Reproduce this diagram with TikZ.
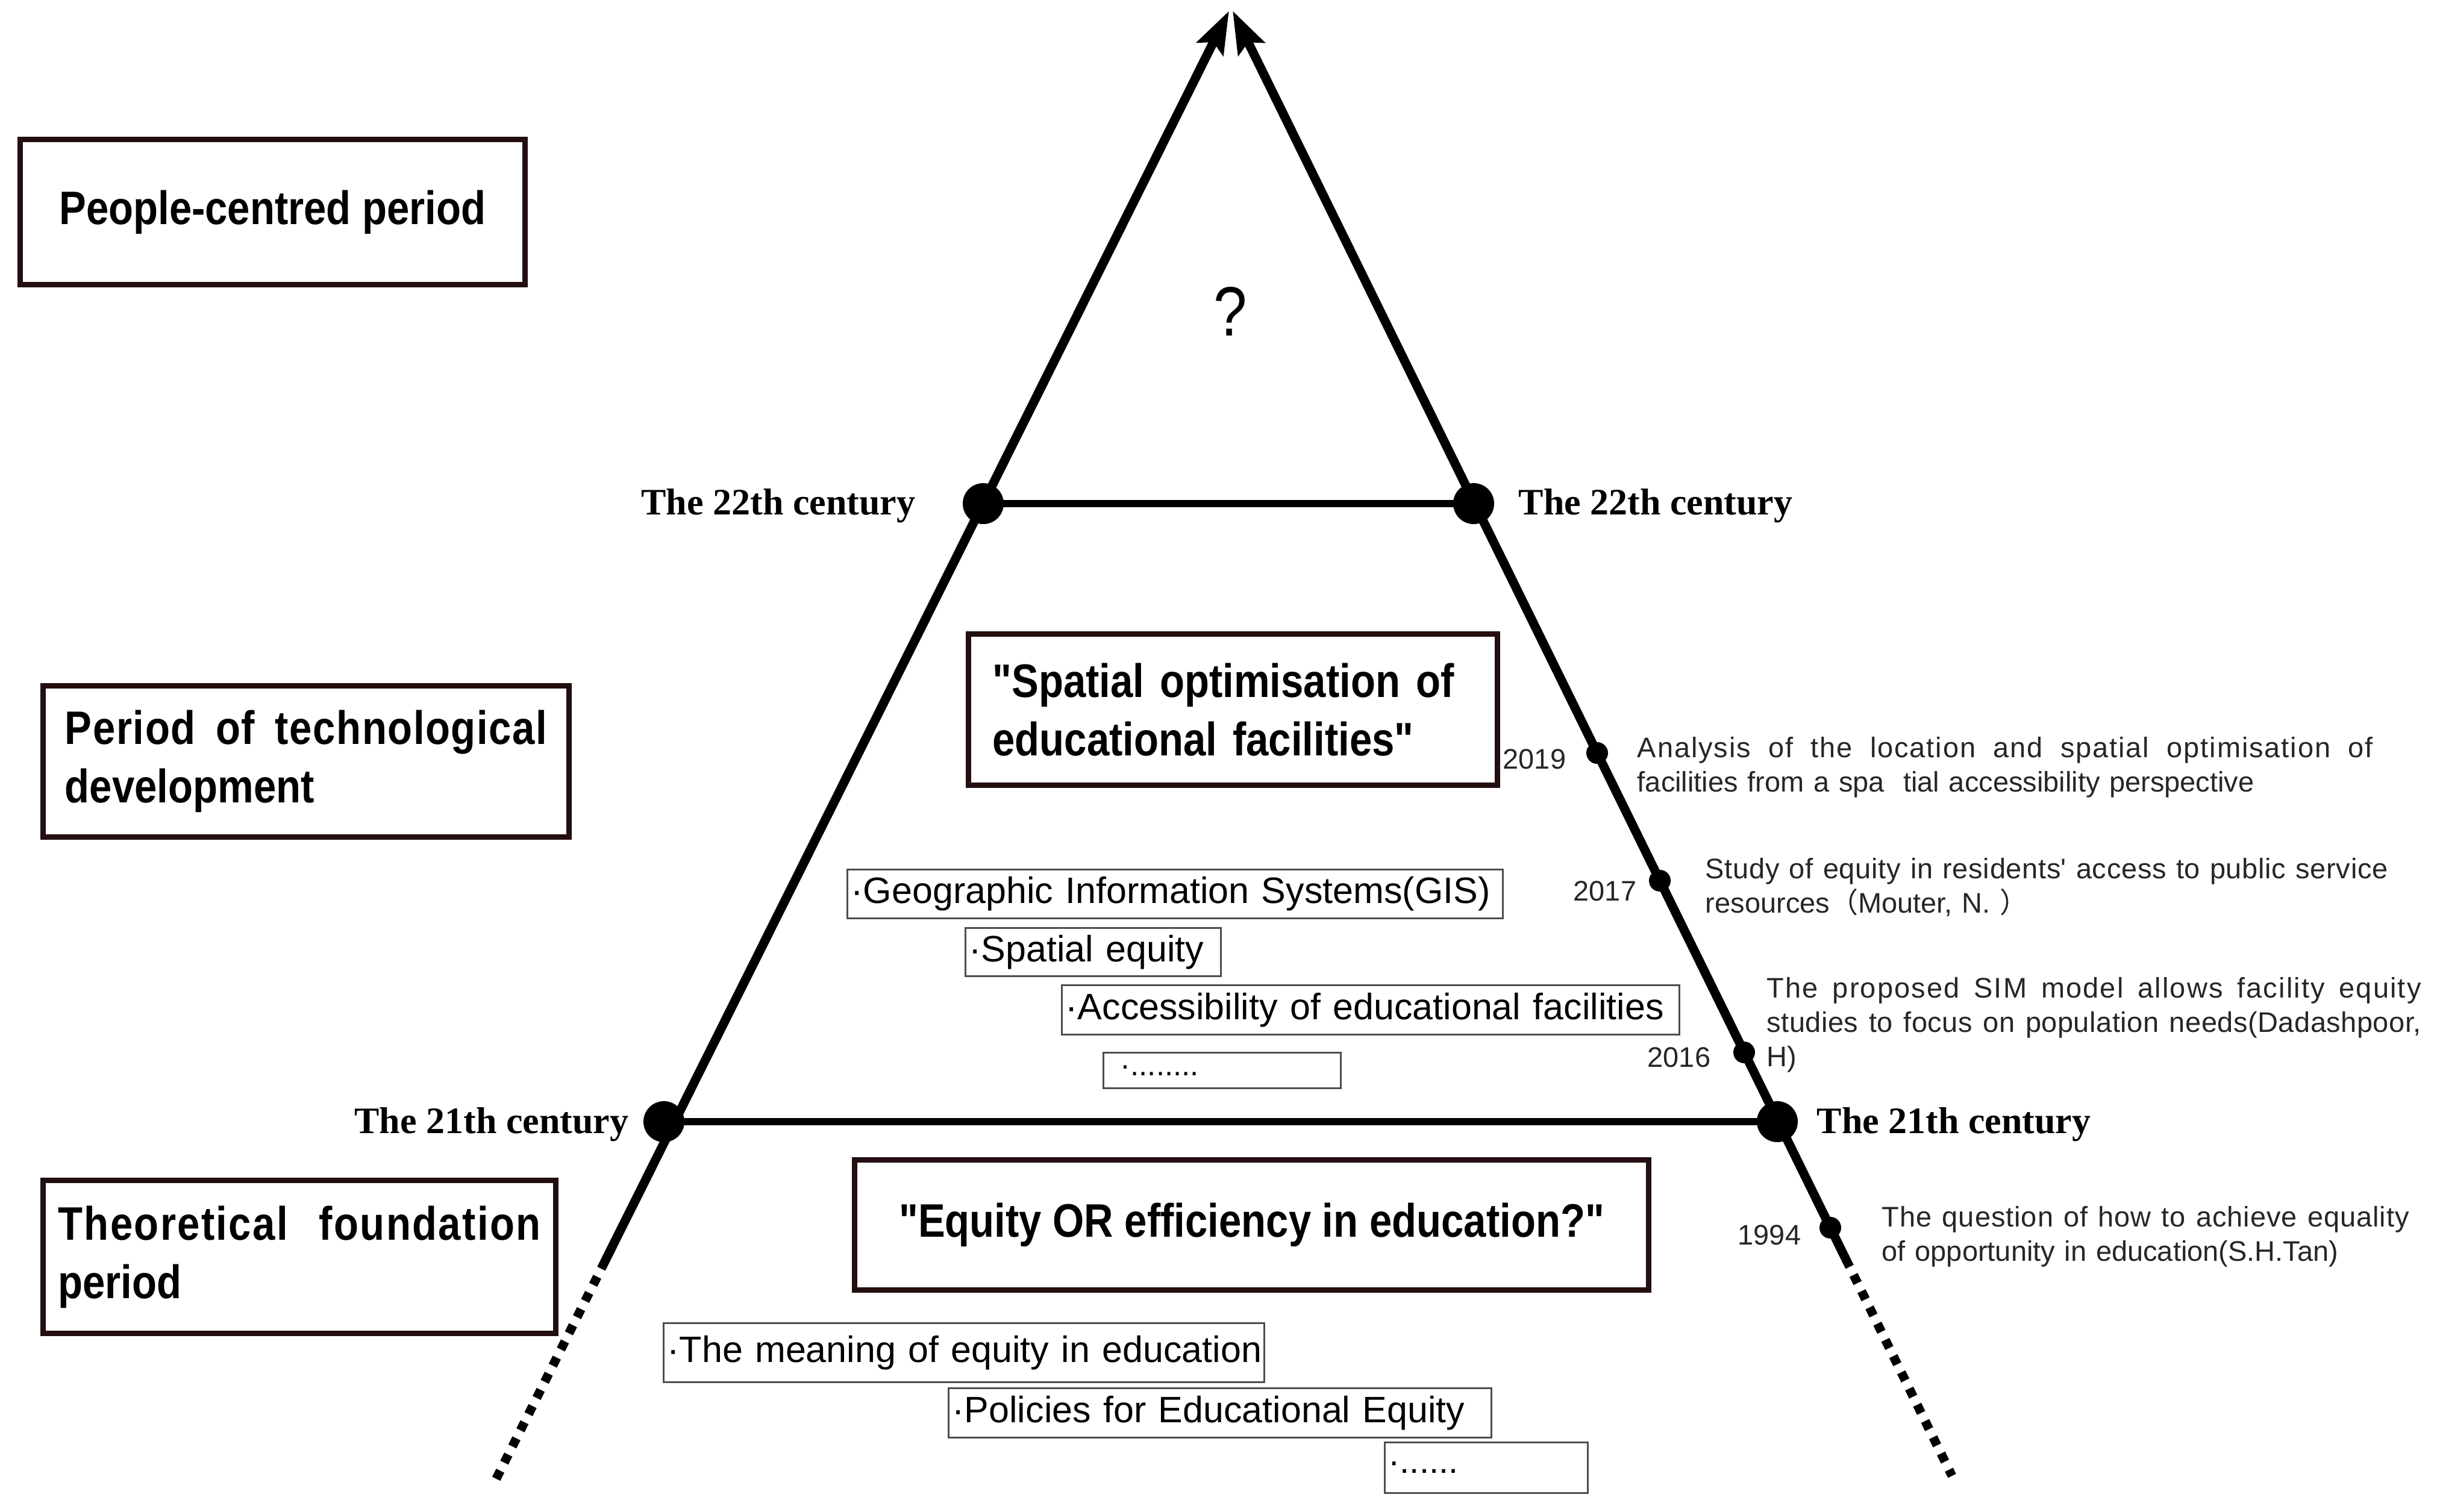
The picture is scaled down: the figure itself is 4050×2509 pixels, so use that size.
\documentclass[tikz,border=0pt]{standalone}
\usepackage{fontspec}
\setmainfont{Liberation Sans}
\newfontfamily\headfont[FakeStretch=0.86]{Liberation Sans}
\newfontfamily\centfont{Liberation Serif}
\newfontfamily\cjk{Noto Sans CJK SC}
\usetikzlibrary{arrows.meta}
\definecolor{boxedge}{RGB}{35,14,16}
\definecolor{itemedge}{RGB}{80,76,76}
\definecolor{txtgray}{RGB}{38,38,38}
\newcommand{\jline}[3][0]{\makebox[#2][s]{\addfontfeature{LetterSpace=#1}\spaceskip=0pt\relax\xspaceskip=0pt\relax #3}}
\begin{document}
\begin{tikzpicture}[x=0.25pt, y=-0.25pt,
  headbox/.style={draw=boxedge, line width=2.25pt, anchor=north west, inner sep=0pt, font={\headfont\bfseries\fontsize{19.5pt}{24.25pt}\selectfont}},
  itembox/.style={draw=itemedge, line width=0.75pt, anchor=north west, inner xsep=1.5pt, inner ysep=0pt, font={\fontsize{15.25pt}{18pt}\selectfont}},
  century/.style={font={\centfont\bfseries\fontsize{15.5pt}{18pt}\selectfont}, inner sep=0pt},
  notetext/.style={font={\fontsize{11.75pt}{14.25pt}\selectfont}, text=txtgray, inner sep=0pt},
  yearlabel/.style={font={\fontsize{11.75pt}{14.25pt}\selectfont}, text=txtgray, inner sep=0pt},
  bigdot/.style={circle, fill=black, inner sep=0pt, minimum size=17pt},
  smalldot/.style={circle, fill=black, inner sep=0pt, minimum size=9pt},
  sideline/.style={line width=3.75pt},
  dotline/.style={line width=3.75pt, dash pattern=on 3.75pt off 3.75pt, dash phase=3.75pt},
  levelline/.style={line width=3pt},
  uptip/.style={-{Stealth[length=17.5pt, width=12pt, inset=3pt]}}
]
\fill[white] (0,0) rectangle (4050,2509);
\useasboundingbox (0,0) rectangle (4050,2509);

% period boxes
\node[headbox, minimum width=209.5pt, minimum height=60.25pt, align=center] (people) at (29,227) {People-centred period};
\node[headbox, minimum width=218.25pt, minimum height=62.75pt, text width=200pt] (tech) at (67,1134) {\jline[2]{200pt}{Period of technological}\\development};
\node[headbox, minimum width=212.75pt, minimum height=63.5pt, text width=200.25pt] (theory) at (67,1955) {\jline[3]{200.25pt}{Theoretical foundation}\\period};

% theme boxes
\node[headbox, minimum width=219.5pt, minimum height=62.75pt, text width=199.5pt] (spatial) at (1603,1048) {"Spatial optimisation of\\educational facilities"};
\node[headbox, minimum width=329.5pt, minimum height=54pt, align=center] (equity) at (1414,1921) {"Equity OR efficiency in education?"};

% keyword boxes
\node[itembox, text width=269pt, minimum height=20.25pt] (gis) at (1405,1442) {\mbox{·Geographic Information Systems(GIS)}};
\node[itembox, text width=103pt, minimum height=20pt] (speq) at (1601,1539) {\mbox{·Spatial equity}};
\node[itembox, text width=253.25pt, minimum height=20.5pt] (access) at (1761,1634) {\mbox{·Accessibility of educational facilities}};
\node[itembox, text width=95.5pt, minimum height=14.75pt, font={\fontsize{12.75pt}{14pt}\selectfont}] (dotsA) at (1830,1746) {\mbox{\hspace*{5.5pt}·........}};
\node[itembox, text width=246.25pt, minimum height=24.5pt] (meaning) at (1100,2195) {\mbox{·The meaning of equity in education}};
\node[itembox, text width=222.25pt, minimum height=20.5pt] (policies) at (1573,2303) {\mbox{·Policies for Educational Equity}};
\node[itembox, text width=81.25pt, minimum height=21pt, font={\fontsize{14.5pt}{16pt}\selectfont}] (dotsB) at (2297,2393) {\mbox{·......}};

% question mark
\node[font={\headfont\fontsize{29pt}{32pt}\selectfont}, inner sep=0pt] (q) at (2042,517) {?};

% pyramid ends
\coordinate (Ltip) at (2040,18);
\coordinate (Lend) at (998,2106);
\coordinate (Lfar) at (823,2456);
\coordinate (Rtip) at (2046,18);
\coordinate (Rend) at (3070,2103);
\coordinate (Rfar) at (3240,2450);

% century dots
\node[bigdot] (c22L) at (1632,836) {};
\node[bigdot] (c22R) at (2446,836) {};
\node[bigdot] (c21L) at (1102,1862) {};
\node[bigdot] (c21R) at (2950,1862) {};
\node[smalldot] (d2019) at (2651,1250) {};
\node[smalldot] (d2017) at (2755,1462) {};
\node[smalldot] (d2016) at (2895,1747) {};
\node[smalldot] (d1994) at (3038,2038) {};

% sides
\draw[sideline, uptip] (Lend) -- (Ltip);
\draw[dotline] (Lend) -- (Lfar);
\draw[sideline, uptip] (Rend) -- (Rtip);
\draw[dotline] (Rend) -- (Rfar);

% levels
\draw[levelline] (c22L.center) -- (c22R.center);
\draw[levelline] (c21L.center) -- (c21R.center);

% century labels
\node[century, anchor=base east] (l22L) at (1520,854) {The 22th century};
\node[century, anchor=base west] (l22R) at (2520,854) {The 22th century};
\node[century, anchor=base east] (l21L) at (1044,1881) {The 21th century};
\node[century, anchor=base west] (l21R) at (3015,1881) {The 21th century};

% years
\node[yearlabel, anchor=base east] (y2019) at (2600,1276) {2019};
\node[yearlabel, anchor=base east] (y2017) at (2717,1495) {2017};
\node[yearlabel, anchor=base east] (y2016) at (2840,1771) {2016};
\node[yearlabel, anchor=base east] (y1994) at (2990,2066) {1994};

% notes
\node[notetext, anchor=base west, text width=306pt] (t2019) at (2717,1257) {\jline[4]{305.25pt}{Analysis of the location and spatial optimisation of}\\facilities from a spa\ \ tial accessibility perspective};
\node[notetext, anchor=base west, text width=284pt] (t2017) at (2830,1458) {\jline[1.5]{283.25pt}{Study of equity in residents{\addfontfeatures{Ligatures=TeXOff}'} access to public service}\\resources{\cjk（}Mouter, N. {\cjk）}};
\node[notetext, anchor=base west, text width=272pt] (t2016) at (2932,1656) {\jline[4.5]{271.5pt}{The proposed SIM model allows facility equity}\\\jline[1]{271.5pt}{studies to focus on population needs(Dadashpoor,}\\H)};
\node[notetext, anchor=base west, text width=219.5pt] (t1994) at (3123,2036) {\jline[2]{218.75pt}{The question of how to achieve equality}\\of opportunity in education(S.H.Tan)};
\end{tikzpicture}
\end{document}
